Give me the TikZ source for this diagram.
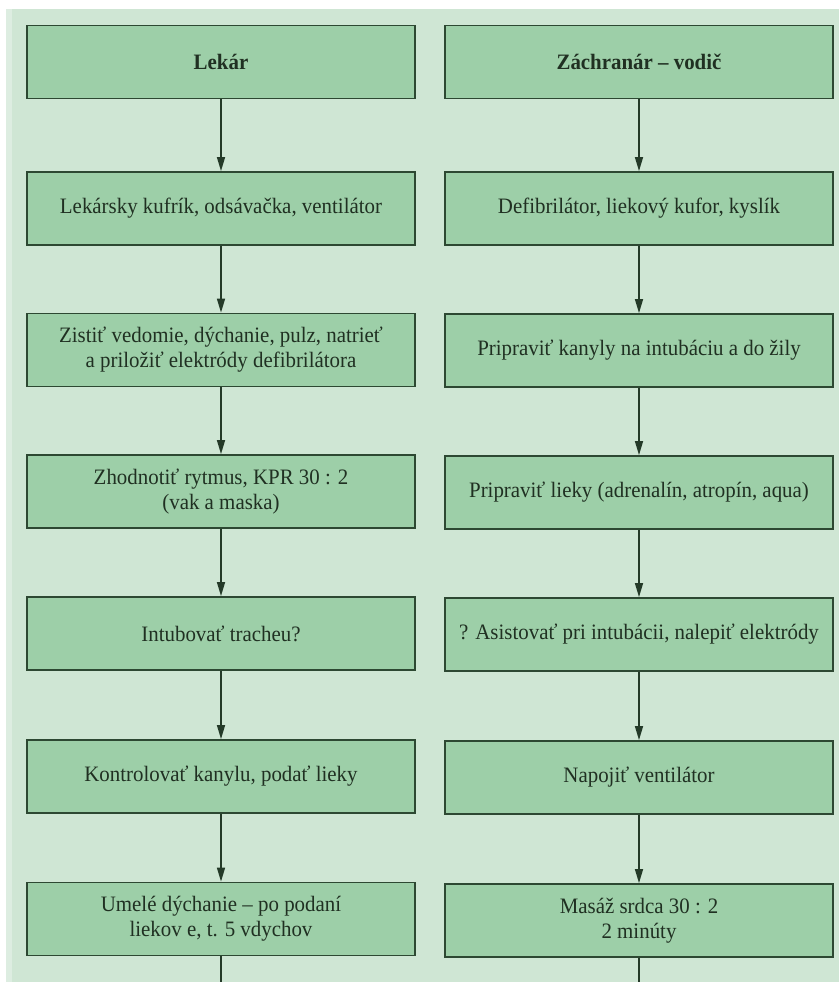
\documentclass[tikz,border=0pt]{standalone}
\usepackage{fontspec}
\setmainfont{Liberation Serif}[FakeStretch=0.95]
\usetikzlibrary{arrows.meta}
\definecolor{panel}{RGB}{207,230,212}
\definecolor{boxfill}{RGB}{157,207,168}
\definecolor{boxline}{RGB}{45,72,50}
\definecolor{txt}{RGB}{32,48,34}
\tikzset{
  stepbox/.style={draw=boxline, line width=1.8pt, fill=boxfill, minimum width=388pt,
    minimum height=73pt, inner sep=0pt, align=center, text=txt,
    font=\fontsize{22}{25}\selectfont},
  headbox/.style={stepbox, font=\fontsize{22}{25}\selectfont\bfseries},
  conn/.style={draw=boxline!80!black, line width=1.5pt, -{Triangle[length=14pt,width=8pt]}},
  tail/.style={draw=boxline!80!black, line width=1.5pt}
}
\begin{document}
\begin{tikzpicture}[x=1pt,y=-1pt]
\useasboundingbox (0,0) rectangle (839,982);
\fill[white] (0,0) rectangle (839,982);
\fill[panel!70!white] (6,9) rectangle (14,982);
\fill[panel] (12,9) rectangle (839,982);
% left column
\node[headbox] (l1) at (221,62) {Lekár};
\node[stepbox] (l2) at (221,208.5) {Lekársky kufrík, odsávačka, ventilátor};
\node[stepbox] (l3) at (221,350) {Zistiť vedomie, dýchanie, pulz, natrieť\\a priložiť elektródy defibrilátora};
\node[stepbox] (l4) at (221,491.5) {Zhodnotiť rytmus, KPR 30 : 2\\(vak a maska)};
\node[stepbox] (l5) at (221,633.5) {Intubovať tracheu?};
\node[stepbox] (l6) at (221,776.5) {Kontrolovať kanylu, podať lieky};
\node[stepbox] (l7) at (221,919) {Umelé dýchanie – po podaní\\liekov e, t. 5 vdychov};
% right column
\node[headbox] (r1) at (639,62) {Záchranár – vodič};
\node[stepbox] (r2) at (639,208.5) {Defibrilátor, liekový kufor, kyslík};
\node[stepbox] (r3) at (639,350.5) {Pripraviť kanyly na intubáciu a do žily};
\node[stepbox] (r4) at (639,492.5) {Pripraviť lieky (adrenalín, atropín, aqua)};
\node[stepbox] (r5) at (639,634.5) {? Asistovať pri intubácii, nalepiť elektródy};
\node[stepbox] (r6) at (639,777.5) {Napojiť ventilátor};
\node[stepbox] (r7) at (639,920.5) {Masáž srdca 30 : 2\\2 minúty};
\coordinate (lend) at (221,982);
\coordinate (rend) at (639,982);
\foreach \a/\b in {l1/l2,l2/l3,l3/l4,l4/l5,l5/l6,l6/l7,r1/r2,r2/r3,r3/r4,r4/r5,r5/r6,r6/r7}
  \draw[conn] (\a.south) -- (\b.north);
\draw[tail] (l7.south) -- (lend);
\draw[tail] (r7.south) -- (rend);
\end{tikzpicture}
\end{document}
